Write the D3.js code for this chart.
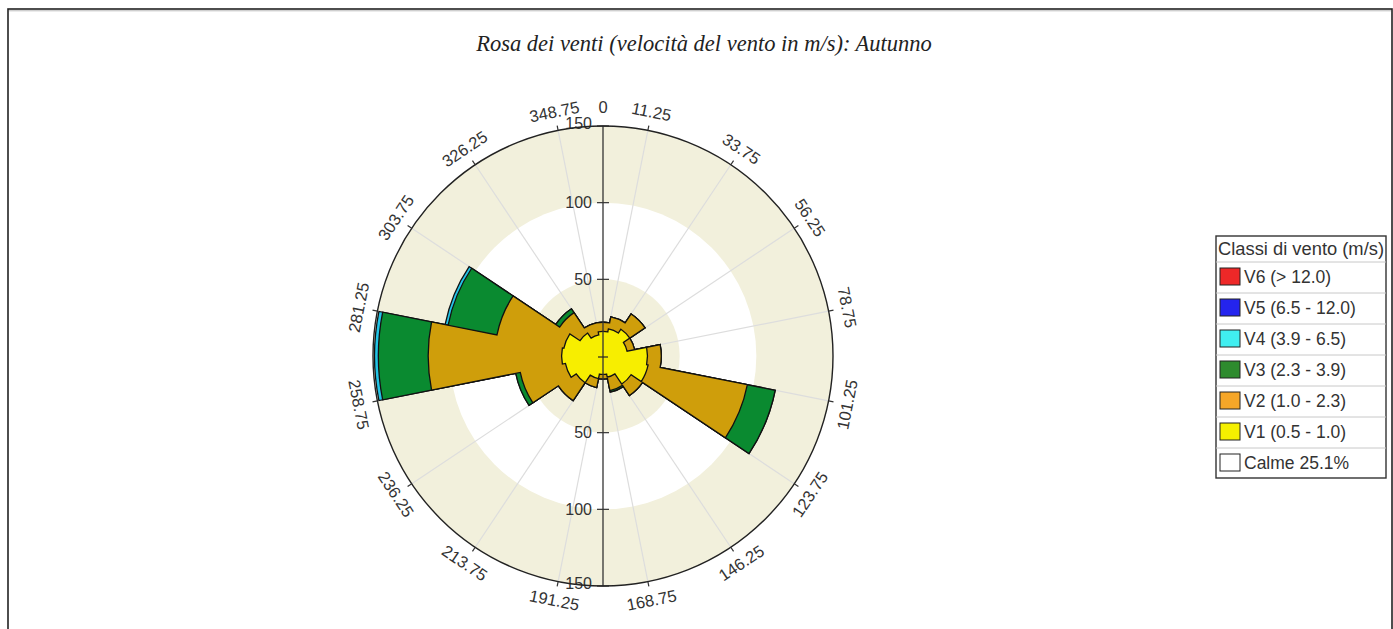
<!DOCTYPE html>
<html><head><meta charset="utf-8">
<script src="https://cdn.jsdelivr.net/npm/d3@7"></script>
<style>
html,body{margin:0;padding:0;background:#fff;}
svg{display:block;}
</style>
</head><body>
<svg id="chart" width="1393" height="629"></svg>
<script>
// ---- data ----
const directions = [0, 22.5, 45, 67.5, 90, 112.5, 135, 157.5, 180, 202.5, 225, 247.5, 270, 292.5, 315, 337.5];
const v1 = [16, 18, 21, 16, 29, 30, 22, 14, 12, 15, 21, 25, 27, 26, 18, 14];
const v2 = [6, 8, 12, 5, 9, 66, 9, 9, 3, 6, 14, 30, 87, 44.5, 16, 8];
const v3 = [0, 0, 0, 0, 0, 18.5, 0, 1, 0, 0, 0, 3, 32.5, 32.5, 3, 0];
const v4 = [0, 0, 0, 0, 0, 0, 0, 0, 0, 0, 0, 0, 2.5, 2, 0, 0];
const v5 = [0, 0, 0, 0, 0, 0, 0, 0, 0, 0, 0, 0, 0, 0, 0, 0];
const v6 = [0, 0, 0, 0, 0, 0, 0, 0, 0, 0, 0, 0, 0, 0, 0, 0];
const seriesNames = ["V1 (0.5 - 1.0)", "V2 (1.0 - 2.3)", "V3 (2.3 - 3.9)", "V4 (3.9 - 6.5)", "V5 (6.5 - 12.0)", "V6 (> 12.0)"];
const plotColors = ["#f7ee00", "#cf9e0b", "#0a8a30", "#22c4e6", "#1d1de0", "#e82020"];
const legendColors = ["#f5f000", "#f5a628", "#2e8b2e", "#40eef0", "#2424ee", "#ee2828"];
const boundaryLabels = ["11.25","33.75","56.25","78.75","101.25","123.75","146.25","168.75","191.25","213.75","236.25","258.75","281.25","303.75","326.25","348.75"];
const radialTicks = [50, 100, 150];
const calmLabel = "Calme 25.1%";
const legendTitle = "Classi di vento (m/s)";
const title = "Rosa dei venti (velocità del vento in m/s): Autunno";

// ---- layout ----
const svg = d3.select("#chart");
const cx = 603, cy = 356, R = 230;
const r = d3.scaleLinear().domain([0, 150]).range([0, R]);
const rad = d => d * Math.PI / 180;
const sectorWidth = 22.5;
const sans = "'Liberation Sans',Arial,sans-serif";

// frame
svg.append("rect").attr("x", 8).attr("y", 9).attr("width", 1384).attr("height", 640)
  .attr("fill", "none").attr("stroke", "#222").attr("stroke-width", 1.6);
svg.append("line").attr("x1", 9).attr("x2", 1391).attr("y1", 10.8).attr("y2", 10.8)
  .attr("stroke", "#bbb").attr("stroke-width", 1);

// title
svg.append("text").attr("x", 704).attr("y", 51).attr("text-anchor", "middle")
  .attr("font-family", "'Liberation Serif','Times New Roman',serif").attr("font-style", "italic")
  .attr("font-size", 22.5).attr("fill", "#222").text(title);

const g = svg.append("g").attr("transform", `translate(${cx},${cy})`);

// background bands
const bands = [{r: 150, c: "#f2f0dc"}, {r: 100, c: "#ffffff"}, {r: 50, c: "#f2f0dc"}];
g.selectAll("circle.band").data(bands).join("circle").attr("class", "band")
  .attr("r", d => r(d.r)).attr("fill", d => d.c);

// spokes at sector boundaries
g.selectAll("line.spoke").data(boundaryLabels).join("line").attr("class", "spoke")
  .attr("x1", 0).attr("y1", 0)
  .attr("x2", d => r(150) * Math.sin(rad(+d)))
  .attr("y2", d => -r(150) * Math.cos(rad(+d)))
  .attr("stroke", "#dddddd").attr("stroke-width", 1.2);

// stacked layers: one outline per cumulative layer, outermost first
const layers = [v1, v2, v3, v4, v5, v6];
const cumLayers = [];
layers.forEach((arr, k) => {
  const cum = arr.map((v, i) => v + (k > 0 ? cumLayers[k - 1].cum[i] : 0));
  cumLayers.push({k, cum, any: arr.some(v => v > 0)});
});
function layerPath(cum) {
  const p = d3.path();
  directions.forEach((dir, i) => {
    const a0 = rad(dir - sectorWidth / 2 - 90), a1 = rad(dir + sectorWidth / 2 - 90);
    const rr = r(cum[i]);
    if (i === 0) p.moveTo(rr * Math.cos(a0), rr * Math.sin(a0));
    p.arc(0, 0, rr, a0, a1, false);
  });
  p.closePath();
  return p.toString();
}
g.selectAll("path.layer").data(cumLayers.filter(d => d.any).reverse()).join("path").attr("class", "layer")
  .attr("d", d => layerPath(d.cum)).attr("fill", d => plotColors[d.k])
  .attr("stroke", "#111").attr("stroke-width", 1.3).attr("stroke-linejoin", "miter");

// radial axis (vertical)
g.append("line").attr("x1", 0).attr("x2", 0).attr("y1", -r(150)).attr("y2", r(150))
  .attr("stroke", "#333").attr("stroke-width", 1.3);
const tickData = [];
radialTicks.forEach(t => { tickData.push({t, s: -1}); tickData.push({t, s: 1}); });
g.selectAll("line.rtick").data(tickData).join("line").attr("class", "rtick")
  .attr("x1", -6).attr("x2", 6).attr("y1", d => d.s * r(d.t)).attr("y2", d => d.s * r(d.t))
  .attr("stroke", "#333").attr("stroke-width", 1.2);
g.selectAll("text.rlab").data(tickData).join("text").attr("class", "rlab")
  .attr("x", -11).attr("y", d => d.s * r(d.t) - (d.t === 150 ? 3 : 0)).attr("dy", "0.35em")
  .attr("text-anchor", "end").attr("font-family", sans)
  .attr("font-size", 16).attr("fill", "#333").text(d => d.t);

// center mark
g.append("line").attr("x1", -5).attr("x2", 5).attr("y1", 1).attr("y2", 1)
  .attr("stroke", "#222").attr("stroke-width", 1.2);

// outer circle
g.append("circle").attr("r", r(150)).attr("fill", "none").attr("stroke", "#222").attr("stroke-width", 1.4);

// outer ticks
g.selectAll("line.otick").data(boundaryLabels).join("line").attr("class", "otick")
  .attr("x1", d => r(150) * Math.sin(rad(+d))).attr("y1", d => -r(150) * Math.cos(rad(+d)))
  .attr("x2", d => (r(150) + 5) * Math.sin(rad(+d))).attr("y2", d => -(r(150) + 5) * Math.cos(rad(+d)))
  .attr("stroke", "#333").attr("stroke-width", 1.2);

// angle labels
const labR = R + 19;
const angleLabels = [{a: 0, t: "0"}].concat(boundaryLabels.map(t => ({a: +t, t})));
g.selectAll("text.alab").data(angleLabels).join("text").attr("class", "alab")
  .attr("transform", d => {
    const x = labR * Math.sin(rad(d.a)), y = -labR * Math.cos(rad(d.a));
    const rot = (d.a > 90 && d.a < 270) ? d.a - 180 : d.a;
    return `translate(${x},${y}) rotate(${rot})`;
  })
  .attr("text-anchor", "middle").attr("dy", "0.35em")
  .attr("font-family", sans).attr("font-size", 16.5)
  .attr("fill", "#333").text(d => d.t);

// legend
const lx = 1216, ly = 236, lw = 170, headH = 26, rowH = 31;
const legendRows = [5, 4, 3, 2, 1, 0].map(k => ({name: seriesNames[k], color: legendColors[k]}))
  .concat([{name: calmLabel, color: "#ffffff"}]);
const lg = svg.append("g");
lg.append("rect").attr("x", lx).attr("y", ly).attr("width", lw).attr("height", headH + rowH * legendRows.length - 1)
  .attr("fill", "#fff").attr("stroke", "#333").attr("stroke-width", 1.4);
lg.append("text").attr("x", lx + 2).attr("y", ly + 19)
  .attr("font-family", sans).attr("font-size", 17.5).attr("fill", "#333")
  .attr("textLength", 166).attr("lengthAdjust", "spacingAndGlyphs")
  .text(legendTitle);
const rows = lg.selectAll("g.row").data(legendRows).join("g").attr("class", "row")
  .attr("transform", (d, i) => `translate(${lx},${ly + headH + i * rowH})`);
rows.append("line").attr("x1", 0).attr("x2", lw).attr("y1", 0).attr("y2", 0)
  .attr("stroke", "#c8c8c8").attr("stroke-width", 1);
rows.append("rect").attr("x", 4).attr("y", 6).attr("width", 20).attr("height", 17)
  .attr("fill", d => d.color).attr("stroke", "#222").attr("stroke-width", 1);
rows.append("text").attr("x", 28).attr("y", 21)
  .attr("font-family", sans).attr("font-size", 17.5).attr("fill", "#333")
  .text(d => d.name);
</script>
</body></html>
